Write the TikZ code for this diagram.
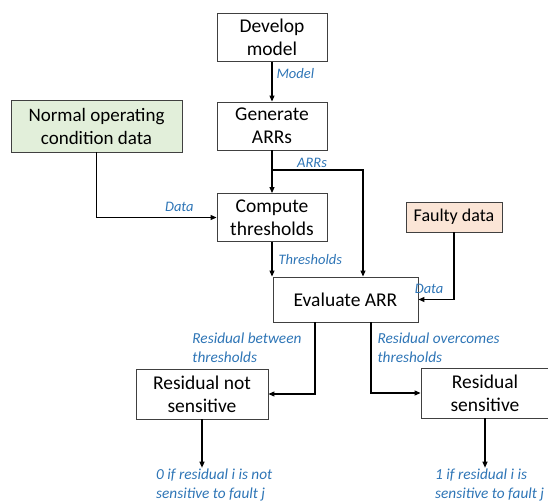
\documentclass[tikz,border=0pt]{standalone}
\usepackage{fontspec}
\setmainfont{Carlito}
\usetikzlibrary{arrows.meta, positioning}
\definecolor{tagblue}{HTML}{2E75B6}
\definecolor{normalgreen}{HTML}{E2EFDA}
\definecolor{faultpeach}{HTML}{FBE5D6}

\begin{document}
\begin{tikzpicture}[
    x=1pt, y=-1pt,
    box/.style={draw=black!75, line width=0.9pt, minimum width=110pt, minimum height=48pt, inner sep=2pt, align=center, font=\fontsize{19.5}{23}\selectfont},
    arrow/.style={-{Triangle[length=6pt, width=5pt]}, line width=1.1pt},
    tag/.style={font=\fontsize{14.5}{19}\selectfont\itshape, text=tagblue, align=left, inner sep=1pt},
    bigtag/.style={tag, font=\fontsize{15.3}{19}\selectfont\itshape}
]
\useasboundingbox (0,0) rectangle (548,503);

\node[box] (model) at (272,37.5) {Develop\\model};
\node[box] (arrs) at (272,126) {Generate\\ARRs};
\node[box, fill=normalgreen, minimum width=171pt, minimum height=52pt, font=\fontsize{19}{23}\selectfont] (normal) at (96.5,126) {Normal operating\\condition data};
\node[box] (thr) at (272,217.5) {Compute\\thresholds};
\node[box, fill=faultpeach, minimum width=96pt, minimum height=30pt, font=\fontsize{18}{22}\selectfont] (faulty) at (454,217) {Faulty data};
\node[box, minimum width=145pt, minimum height=45pt] (eval) at (345.5,299.5) {Evaluate ARR};
\node[box, minimum width=132pt, minimum height=50pt] (notsens) at (202,394) {Residual not\\sensitive};
\node[box, minimum width=128pt, minimum height=50pt] (sens) at (485,393) {Residual\\sensitive};

\node[bigtag, anchor=west] (zero) at (155,485) {0 if residual i is not\\sensitive to fault j};
\node[bigtag, anchor=west] (one) at (434,485) {1 if residual i is\\sensitive to fault j};

\coordinate (split) at (272,170);

\draw[arrow] (model) -- (arrs) node[tag, pos=0.3, right=3pt] {Model};
\draw[arrow] (arrs) -- (thr);
\draw[arrow] (split) -| ([xshift=17.5pt]eval.north) node[tag, pos=0.22, above=1pt] {ARRs};
\draw[arrow] (normal) |- (thr) node[tag, pos=0.845, above=4pt] {Data};
\draw[arrow] (thr) -- (thr |- eval.north) node[tag, midway, right=5pt] {Thresholds};
\draw[arrow] (faulty) |- (eval) node[tag, pos=0.85, above=4pt] {Data};

\draw[arrow] ([xshift=-30.5pt]eval.south) |- (notsens) node[bigtag, pos=0.18, left=12pt] {Residual between\\thresholds};
\draw[arrow] ([xshift=25.5pt]eval.south) |- (sens) node[bigtag, pos=0.18, right=5pt] {Residual overcomes\\thresholds};

\draw[arrow] (notsens) -- (notsens |- zero.north);
\draw[arrow] (sens) -- (sens |- one.north);
\end{tikzpicture}
\end{document}
